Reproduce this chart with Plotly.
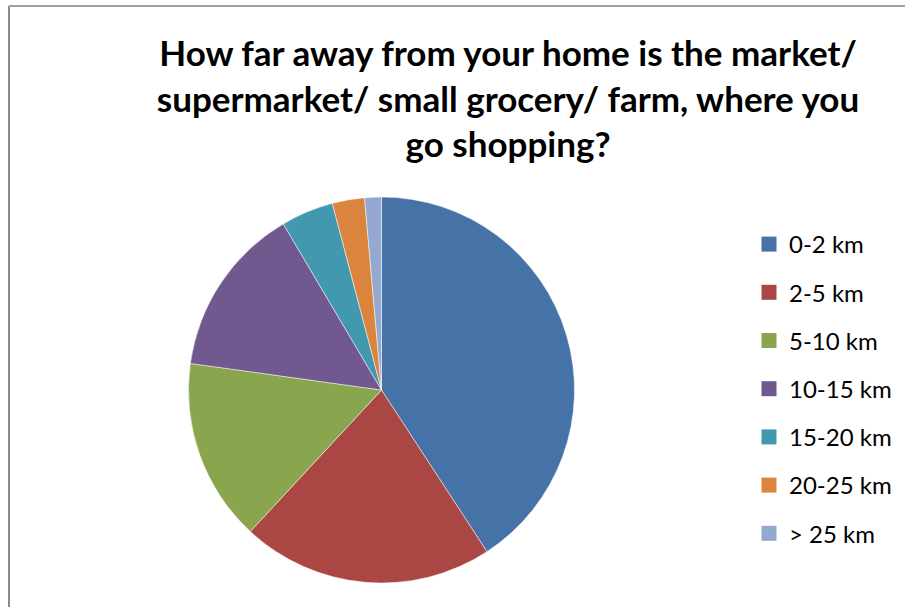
import plotly.graph_objects as go

categories = ["0-2 km", "2-5 km", "5-10 km", "10-15 km", "15-20 km", "20-25 km", "> 25 km"]
shares = [40.8, 21.1, 15.3, 14.3, 4.4, 2.7, 1.4]
colors = ["#4572A7", "#AA4643", "#89A54E", "#71588F", "#4198AF", "#DB843D", "#93A9CF"]
title_text = ("How far away from your home is the market/<br>"
              "supermarket/ small grocery/ farm, where you<br>go shopping?")

W, H = 905, 607

fig = go.Figure()
fig.add_trace(go.Pie(
    labels=categories, values=shares, sort=False, direction="clockwise", rotation=0,
    marker=dict(colors=colors, line=dict(color="white", width=0.5)),
    textinfo="none", showlegend=False,
    domain=dict(x=[188.5 / W, 574.5 / W], y=[24 / H, 410 / H]),
))
for i, (c, col) in enumerate(zip(categories, colors)):
    fig.add_trace(go.Scatter(
        x=[None], y=[None], mode="markers", name=c, legendgroup=f"g{i}",
        marker=dict(symbol="square", size=15, color=col),
    ))

fig.update_layout(
    width=W, height=H,
    margin=dict(l=0, r=0, t=0, b=0),
    paper_bgcolor="white", plot_bgcolor="white",
    font=dict(family="Lato, sans-serif", color="black"),
    title=dict(text=title_text, x=508 / W, xanchor="center", y=1 - 66 / H, yanchor="top",
               font=dict(size=35, family="Lato, sans-serif", weight="bold", color="black")),
    xaxis=dict(visible=False), yaxis=dict(visible=False),
    legend=dict(x=749 / W, xanchor="left", y=1 - 222 / H, yanchor="top",
                font=dict(size=24), tracegroupgap=14, bgcolor="rgba(0,0,0,0)"),
    shapes=[
        dict(type="line", xref="paper", yref="paper", x0=9 / W, x1=9 / W, y0=0, y1=1 - 6 / H,
             line=dict(color="#8a8a8a", width=2)),
        dict(type="line", xref="paper", yref="paper", x0=9 / W, x1=1, y0=1 - 6 / H, y1=1 - 6 / H,
             line=dict(color="#a0a0a0", width=2)),
    ],
)
fig.write_html("out.html", config={"displayModeBar": False},
               post_script="document.body.style.margin='0';document.body.style.overflow='hidden';")
